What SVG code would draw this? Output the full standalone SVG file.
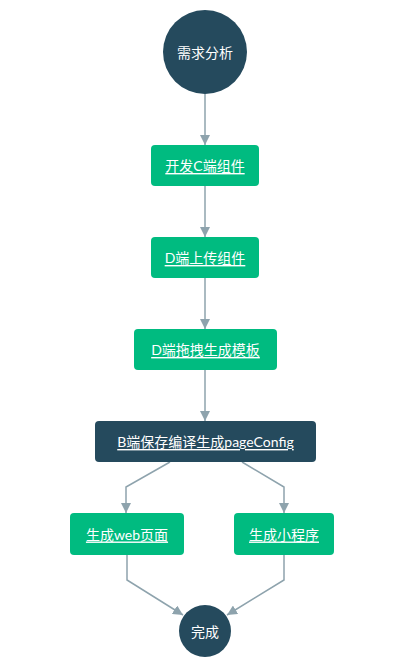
<svg xmlns="http://www.w3.org/2000/svg" width="407" height="669" viewBox="0 0 407 669">
<style>
.g{fill:#00bb80}
.d{fill:#254a5d}
.t{fill:#fff;font-family:Lato,"Noto Sans CJK SC",sans-serif;font-size:14px;text-anchor:middle;dominant-baseline:central}
.u{text-decoration:underline}
.e{fill:none;stroke:#8ea3ad;stroke-width:1.5}
</style>
<defs>
<marker id="a" viewBox="0 0 10 10" refX="10" refY="5" markerWidth="10" markerHeight="10" markerUnits="userSpaceOnUse" orient="auto">
<path d="M0,0 L10,5 L0,10 Z" fill="#8ea3ad"/>
</marker>
</defs>
<rect width="407" height="669" fill="#fff"/>
<g id="edges">
<path class="e" d="M205,94 V145" marker-end="url(#a)"/>
<path class="e" d="M205,186 V237" marker-end="url(#a)"/>
<path class="e" d="M205,278 V329" marker-end="url(#a)"/>
<path class="e" d="M205,370 V421" marker-end="url(#a)"/>
<path class="e" d="M170,462 L126,487 V513" marker-end="url(#a)"/>
<path class="e" d="M242,462 L284,487 V513" marker-end="url(#a)"/>
<path class="e" d="M127,555 V580 L183,615" marker-end="url(#a)"/>
<path class="e" d="M284,555 V580 L227,615" marker-end="url(#a)"/>
</g>
<g id="n1"><circle class="d" cx="205" cy="52" r="42"/><text class="t" x="205" y="52">需求分析</text></g>
<g id="n2"><rect class="g" x="151" y="145" width="108" height="41" rx="4"/><text class="t u" x="205" y="165.5">开发C端组件</text></g>
<g id="n3"><rect class="g" x="151" y="237" width="108" height="41" rx="4"/><text class="t u" x="205" y="257.5">D端上传组件</text></g>
<g id="n4"><rect class="g" x="134" y="329" width="143" height="41" rx="4"/><text class="t u" x="205.5" y="349.5">D端拖拽生成模板</text></g>
<g id="n5"><rect class="d" x="95" y="421" width="221" height="41" rx="4"/><text class="t u" x="205.5" y="441.5">B端保存编译生成pageConfig</text></g>
<g id="n6"><rect class="g" x="70" y="513" width="114" height="42" rx="4"/><text class="t u" x="127" y="534">生成web页面</text></g>
<g id="n7"><rect class="g" x="234" y="513" width="100" height="42" rx="4"/><text class="t u" x="284" y="534">生成小程序</text></g>
<g id="n8"><circle class="d" cx="205" cy="631" r="26"/><text class="t" x="205" y="631">完成</text></g>
</svg>
